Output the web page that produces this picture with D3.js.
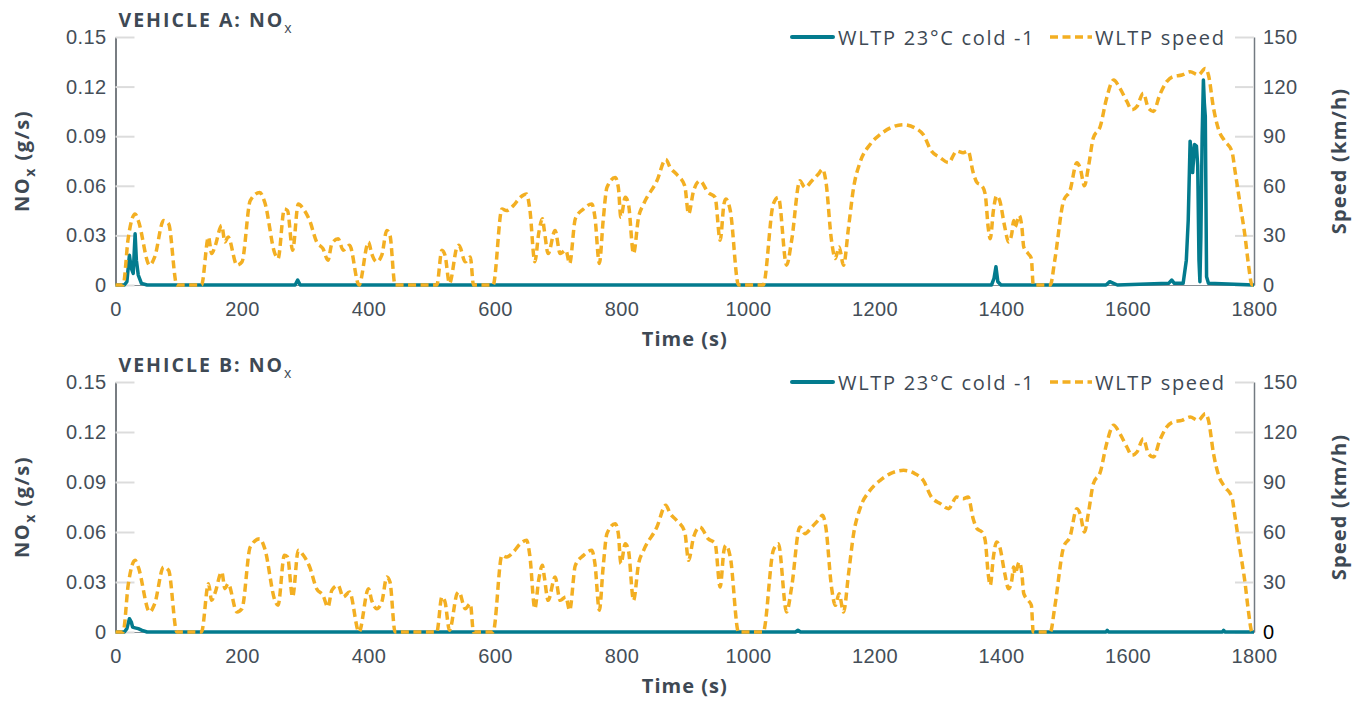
<!DOCTYPE html>
<html>
<head>
<meta charset="utf-8">
<script src="https://cdn.jsdelivr.net/npm/d3@7"></script>
<style>
  body { margin: 0; background: #fff; }
  svg { display: block; font-family: "Open Sans", sans-serif; }
  .tick text { fill: #444e58; font-size: 20px; letter-spacing: 0.4px; }
</style>
</head>
<body>
<div id="chart"></div>
<script>
// WLTP speed trace: [time s, km/h]
const speedTrace = [
  [0,0],[12,0],[20,28],[31,43],[36,39],[54,12],[62,17],[76,39],[84,37],[97,0],
  [136,0],[147,29],[152,19],[157,23],[168,36],[173,26],[178,29],[192,12],[200,14],
  [213,51],[228,56],[236,50],[252,19],[257,16],[267,46],[272,45],[280,21],[289,49],
  [297,46],[307,39],[318,26],[328,22],[336,15],[342,25],[352,28],[360,21],[370,24],
  [385,0],[400,26],[405,19],[413,14],[421,18],[429,33],[434,30],[442,0],[508,0],
  [516,21],[521,18],[528,1],[540,23],[543,24],[553,14],[561,17],[566,0],[597,0],
  [611,46],[618,45],[629,48],[640,53],[650,55],[655,46],[663,14],[669,31],[675,40],
  [678,33],[684,19],[695,33],[703,19],[712,21],[718,13],[727,40],[740,46],[753,49],
  [758,41],[765,13],[771,39],[777,59],[790,65],[795,59],[799,41],[806,53],[811,49],
  [819,19],[827,41],[835,49],[856,63],[870,76],[877,71],[887,67],[900,60],[906,43],
  [914,57],[924,63],[937,56],[948,53],[956,27],[962,49],[965,52],[972,45],[985,0],
  [1024,0],[1040,49],[1048,53],[1061,12],[1069,27],[1082,63],[1090,59],[1101,63],
  [1111,67],[1118,70],[1123,63],[1132,27],[1138,16],[1144,23],[1151,12],[1159,35],
  [1167,59],[1177,74],[1193,85],[1209,91],[1225,95],[1246,97],[1264,95],[1277,91],
  [1290,81],[1304,77],[1317,74],[1330,81],[1340,80],[1348,81],[1356,68],[1362,62],
  [1370,60],[1375,55],[1380,34],[1383,28],[1388,45],[1393,54],[1398,51],[1406,35],
  [1412,26],[1417,31],[1420,39],[1422,35],[1429,42],[1433,35],[1436,23],[1443,19],
  [1448,16],[1451,0],[1478,0],[1485,15],[1499,51],[1509,57],[1520,74],[1525,71],
  [1532,60],[1538,71],[1546,89],[1557,96],[1567,113],[1578,124],[1588,119],[1599,111],
  [1607,106],[1615,108],[1625,116],[1633,107],[1641,105],[1651,115],[1662,123],
  [1672,126],[1686,127],[1699,129],[1712,127],[1723,131],[1728,127],[1736,107],
  [1744,94],[1754,87],[1765,81],[1770,69],[1778,49],[1786,29],[1791,13],[1797,0],[1800,0]
];

// NOx, vehicle A: [time s, g/s]
const noxA = [
  [0,0],[14,0],[18,0.002],[22,0.018],[25,0.010],[28,0.007],[31,0.031],[33,0.015],
  [36,0.006],[41,0.001],[50,0],[284,0],[288,0.003],[292,0],[1385,0],[1389,0.004],
  [1392,0.011],[1395,0.002],[1400,0],[1566,0],[1572,0.002],[1578,0.001],[1584,0],
  [1665,0.001],[1670,0.003],[1674,0.001],[1688,0.001],[1693,0.015],[1696,0.039],
  [1699,0.087],[1701,0.080],[1703,0.068],[1706,0.085],[1709,0.084],[1711,0.072],
  [1713,0.015],[1714.5,0.002],[1716,0.029],[1718,0.09],[1720,0.124],[1721.5,0.110],
  [1723,0.102],[1725,0.005],[1728,0.001],[1800,0]
];

// NOx, vehicle B: [time s, g/s]
const noxB = [
  [0,0],[14,0],[18,0.002],[22,0.008],[25,0.006],[27,0.003],[31,0.0025],[36,0.002],
  [42,0.001],[50,0],[1075,0],[1079,0.001],[1083,0],[1566,0],[1568,0.001],[1570,0],
  [1750,0],[1752,0.001],[1754,0],[1800,0]
];

const timeTicks = [0, 200, 400, 600, 800, 1000, 1200, 1400, 1600, 1800];
const noxTicks = [0, 0.03, 0.06, 0.09, 0.12, 0.15];
const speedTicks = [0, 30, 60, 90, 120, 150];
const panelTitles = ["VEHICLE A: NO", "VEHICLE B: NO"];
const seriesNames = ["WLTP 23°C cold -1", "WLTP speed"];

const teal = "#037b8e";
const orange = "#f3af22";
const ink = "#3e4954";

const width = 1361, height = 704;
const left = 115.5, right = 1254;

const svg = d3.select("#chart").append("svg")
  .attr("width", width)
  .attr("height", height);

const x = d3.scaleLinear().domain([0, 1800]).range([left, right]);

function drawPanel(top, bottom, title, noxData, lastZeroColor) {
  const yNox = d3.scaleLinear().domain([0, 0.15]).range([bottom, top]);
  const ySpeed = d3.scaleLinear().domain([0, 150]).range([bottom, top]);
  const g = svg.append("g");

  // x axis baseline
  const xAxis = g.append("g")
    .attr("transform", "translate(0," + bottom + ")")
    .call(d3.axisBottom(x).tickValues(timeTicks).tickSize(0).tickPadding(17)
      .tickFormat(d3.format("d")));
  xAxis.select(".domain").attr("stroke", "#8a9096");

  // left axis with short inward grid stubs
  const yAxisL = g.append("g")
    .attr("transform", "translate(" + left + ",0)")
    .call(d3.axisLeft(yNox).tickValues(noxTicks)
      .tickSizeInner(-19).tickSizeOuter(0).tickPadding(9)
      .tickFormat(d => d === 0 ? "0" : d.toFixed(2)));
  yAxisL.select(".domain").attr("stroke", "#4b5259").attr("stroke-width", 1.5);
  yAxisL.selectAll(".tick line").attr("stroke", "#dcdcdc").attr("stroke-width", 2);

  const yAxisR = g.append("g")
    .attr("transform", "translate(" + right + ",0)")
    .call(d3.axisRight(ySpeed).tickValues(speedTicks)
      .tickSizeInner(-19).tickSizeOuter(0).tickPadding(9));
  yAxisR.select(".domain").attr("stroke", "#737a81").attr("stroke-width", 1.5);
  yAxisR.selectAll(".tick line").attr("stroke", "#dcdcdc").attr("stroke-width", 2);
  yAxisR.selectAll(".tick text").filter(d => d === 0).style("fill", lastZeroColor);

  // NOx line
  g.append("path")
    .datum(noxData)
    .attr("fill", "none")
    .attr("stroke", teal)
    .attr("stroke-width", 3.5)
    .attr("stroke-linejoin", "round")
    .attr("d", d3.line().x(d => x(d[0])).y(d => yNox(d[1])));

  // speed line
  g.append("path")
    .datum(speedTrace)
    .attr("fill", "none")
    .attr("stroke", orange)
    .attr("stroke-width", 3.5)
    .attr("stroke-dasharray", "8,4.5")
    .attr("d", d3.line().curve(d3.curveMonotoneX)
      .x(d => x(d[0])).y(d => ySpeed(d[1])));

  // title
  const t = g.append("text")
    .attr("x", left + 3)
    .attr("y", top - 10)
    .attr("fill", ink)
    .attr("font-size", 19.5)
    .attr("font-weight", 700)
    .attr("letter-spacing", 2)
    .text(title);
  t.append("tspan").attr("font-size", 14).attr("font-weight", 400).attr("dy", 6).text("x");

  // axis titles
  g.append("text")
    .attr("x", (left + right) / 2)
    .attr("y", bottom + 61)
    .attr("text-anchor", "middle")
    .attr("fill", ink)
    .attr("font-size", 20)
    .attr("font-weight", 700)
    .attr("letter-spacing", 1)
    .text("Time (s)");

  const mid = (top + bottom) / 2;
  const yl = g.append("text")
    .attr("transform", "translate(29," + mid + ") rotate(-90)")
    .attr("text-anchor", "middle")
    .attr("fill", ink)
    .attr("font-size", 20)
    .attr("font-weight", 700)
    .attr("letter-spacing", 1.5)
    .text("NO");
  yl.append("tspan").attr("font-size", 14).attr("dy", 6).text("x");
  yl.append("tspan").attr("dy", -6).text(" (g/s)");

  g.append("text")
    .attr("transform", "translate(1346," + mid + ") rotate(-90)")
    .attr("text-anchor", "middle")
    .attr("fill", ink)
    .attr("font-size", 20)
    .attr("font-weight", 700)
    .attr("letter-spacing", 1.2)
    .text("Speed (km/h)");

  // legend
  const ly = top;
  const lg = g.append("g");
  lg.append("line")
    .attr("x1", 792).attr("x2", 833).attr("y1", ly).attr("y2", ly)
    .attr("stroke", teal).attr("stroke-width", 4).attr("stroke-linecap", "round");
  lg.append("text")
    .attr("x", 838).attr("y", ly + 7.5)
    .attr("fill", ink).attr("font-size", 20)
    .attr("letter-spacing", 1.7)
    .text(seriesNames[0]);
  lg.append("line")
    .attr("x1", 1050).attr("x2", 1092).attr("y1", ly).attr("y2", ly)
    .attr("stroke", orange).attr("stroke-width", 3.5)
    .attr("stroke-dasharray", "8,4.5");
  lg.append("text")
    .attr("x", 1095).attr("y", ly + 7.5)
    .attr("fill", ink).attr("font-size", 20)
    .attr("letter-spacing", 1.7)
    .text(seriesNames[1]);
}

drawPanel(37, 285, panelTitles[0], noxA, "#444e58");
drawPanel(382, 632, panelTitles[1], noxB, "#000");
</script>
</body>
</html>
